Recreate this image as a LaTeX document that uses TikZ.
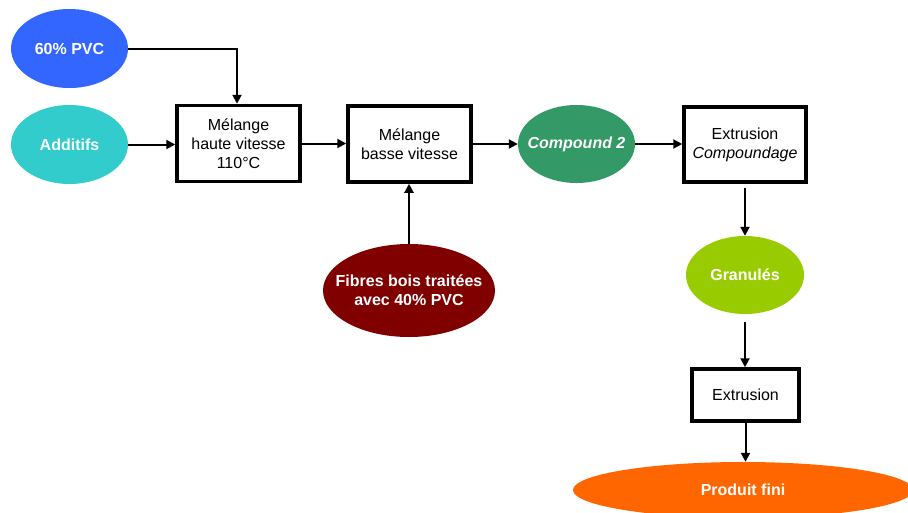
\documentclass[tikz,border=0pt]{standalone}
\usepackage{fontspec}
\setmainfont{Liberation Sans}
\usetikzlibrary{shapes.geometric,arrows.meta}
\definecolor{cpvc}{HTML}{3366FF}
\definecolor{cadd}{HTML}{33CCCC}
\definecolor{ccmp}{HTML}{339966}
\definecolor{cfib}{HTML}{800000}
\definecolor{cgran}{HTML}{99CC00}
\definecolor{cprod}{HTML}{FF6600}
\begin{document}
\begin{tikzpicture}[x=1pt,y=-1pt,
  oval/.style={ellipse,inner xsep=-25pt,inner ysep=0pt,text=white,font=\fontsize{16}{19}\selectfont\bfseries,align=center},
  procbox/.style={draw=black,line width=3.5pt,fill=white,inner sep=0pt,font=\fontsize{16}{19}\selectfont,align=center},
  flow/.style={line width=2pt,-{Triangle[length=9pt,width=9pt]}}]
\useasboundingbox (0,0) rectangle (908,512);
\node[oval,fill=cpvc,minimum width=117pt,minimum height=79pt] (pvc) at (69.5,48.5) {60\% PVC};
\node[oval,fill=cadd,minimum width=117pt,minimum height=79pt] (add) at (69.5,144.5) {Additifs};
\node[procbox,minimum width=123pt,minimum height=76pt] (b1) at (238.5,143.5) {Mélange\\haute vitesse\\110°C};
\node[procbox,minimum width=123pt,minimum height=76pt] (b2) at (409.5,144) {Mélange\\basse vitesse};
\node[oval,fill=ccmp,minimum width=117pt,minimum height=78pt] (cmp) at (576.5,144) {\itshape Compound 2};
\node[procbox,minimum width=122pt,minimum height=75pt] (b3) at (745,144.5) {Extrusion\\\itshape Compoundage};
\node[oval,fill=cgran,minimum width=118pt,minimum height=78pt] (gran) at (745,275) {Granulés};
\node[procbox,minimum width=107pt,minimum height=52pt] (b4) at (745.5,395) {Extrusion};
\node[oval,fill=cprod,minimum width=340pt,minimum height=56pt] (prod) at (743,490) {Produit fini};
\node[oval,fill=cfib,minimum width=172pt,minimum height=93pt] (fib) at (409,290.5) {Fibres bois traitées\\avec 40\% PVC};
\draw[flow] (pvc.east) -| ([xshift=-1.5pt]b1.north);
\draw[flow] (add.east) -- (add.east -| b1.west);
\draw[flow] (b1.east) -- (b1.east -| b2.west);
\draw[flow] (b2.east) -- (cmp.west);
\draw[flow] (cmp.east) -- (cmp.east -| b3.west);
\draw[flow] (fib.north) -- (fib.north |- b2.south);
\draw[flow,shorten <=4pt] (b3.south) -- (gran.north);
\draw[flow,shorten <=8pt] (gran.south) -- (gran.south |- b4.north);
\draw[flow] (b4.south) -- (b4.south |- prod.north);
\end{tikzpicture}
\end{document}
